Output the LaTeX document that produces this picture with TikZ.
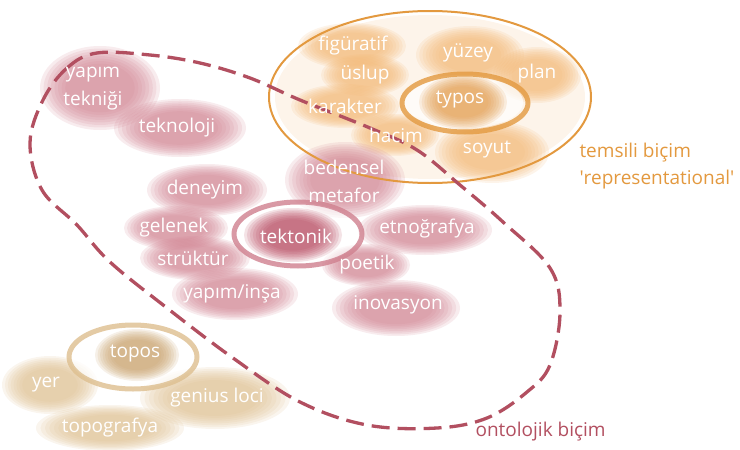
\documentclass[tikz,border=0pt]{standalone}
\usepackage{fontspec}
\setmainfont{Open Sans}
\usepackage{tikz}
\usetikzlibrary{positioning, calc}
\usepackage{xcolor}

\definecolor{redwash}{HTML}{CF7F8E}
\definecolor{reddark}{HTML}{B5425A}
\definecolor{redline}{HTML}{B24F60}
\definecolor{orwash}{HTML}{F2B774}
\definecolor{ordark}{HTML}{E39A48}
\definecolor{orline}{HTML}{E3993F}
\definecolor{tanwash}{HTML}{DDBE8E}
\definecolor{tandark}{HTML}{C79E66}

% soft watercolour spot: x, y, x radius, y radius, colour
\newcommand{\wspot}[5]{%
  \foreach \s in {1.0,0.94,0.88,0.82,0.76,0.70,0.64,0.58}
    \fill [#5, opacity=0.15] (#1,#2) ellipse [x radius=#3*\s, y radius=#4*\s];}

\begin{document}
\begin{tikzpicture}[x=1pt, y=-1pt,
    word/.style={text=white, font=\fontsize{19}{20}\selectfont, inner sep=1pt},
    wordtall/.style={word, align=center, font=\fontsize{19}{28}\selectfont},
    ring/.style={line width=5pt, opacity=0.8},
    caption/.style={anchor=west, font=\fontsize{19}{20}\selectfont}]
    \useasboundingbox (0,0) rectangle (740,450);

    % washes: representational
    \fill [orwash, opacity=0.15] (430,97) ellipse [x radius=155, y radius=82];
    \wspot{352}{46}{54}{23}{orwash}
    \wspot{365}{75}{44}{21}{orwash}
    \wspot{345}{106}{54}{22}{orwash}
    \wspot{395}{135}{44}{21}{orwash}
    \wspot{470}{55}{54}{29}{orwash}
    \wspot{537}{75}{44}{28}{orwash}
    \wspot{492}{152}{57}{31}{orwash}
    \fill [white, opacity=0.7] (463,102) ellipse [x radius=60, y radius=27];
    \wspot{463}{102}{44}{27}{ordark}
    \draw [orline, ring] (465,103) ellipse [x radius=63, y radius=29];

    % washes: ontological
    \wspot{100}{88}{60}{42}{redwash}
    \wspot{180}{128}{66}{29}{redwash}
    \wspot{207}{190}{60}{26}{redwash}
    \wspot{176}{228}{52}{22}{redwash}
    \wspot{195}{258}{55}{22}{redwash}
    \wspot{345}{180}{60}{38}{redwash}
    \wspot{425}{230}{67}{25}{redwash}
    \wspot{366}{265}{44}{21}{redwash}
    \wspot{235}{294}{63}{26}{redwash}
    \wspot{396}{308}{64}{28}{redwash}
    \fill [white, opacity=0.6] (297,234) ellipse [x radius=62, y radius=31];
    \wspot{293}{235}{49}{27}{reddark}
    \draw [redwash, ring] (298,234) ellipse [x radius=64, y radius=32];

    % washes: topos
    \wspot{50}{385}{48}{29}{tanwash}
    \wspot{215}{398}{75}{31}{tanwash}
    \wspot{110}{428}{74}{23}{tanwash}
    \fill [white, opacity=0.7] (133,357) ellipse [x radius=63, y radius=31];
    \wspot{137}{355}{42}{26}{tandark}
    \draw [tanwash, ring] (133,357) ellipse [x radius=64, y radius=32];

    % outlines
    \draw [orline, line width=2pt] (430,97) ellipse [x radius=161, y radius=86];
    \draw [redline, line width=3.3pt, dash pattern=on 18pt off 8pt, tension=0.6]
        plot [smooth cycle] coordinates {(97,53) (67,68) (43,100) (30,143) (42,190)
        (77,225) (110,262) (167,308) (233,358) (300,402) (367,425) (437,428)
        (487,418) (527,392) (550,365) (560,312) (550,268) (503,222) (460,185)
        (417,150) (370,128) (300,100) (250,78) (200,63) (150,55)};

    % words
    \node (yapimteknigi) [wordtall] at (93,89) {yapım\\tekniği};
    \node (teknoloji) [word] at (177,128) {teknoloji};
    \node (deneyim) [word] at (205,190) {deneyim};
    \node (gelenek) [word] at (174,228) {gelenek};
    \node (struktur) [word] at (193,258) {strüktür};
    \node (tektonik) [word] at (296,236) {tektonik};
    \node (bedensel) [wordtall] at (344,181) {bedensel\\metafor};
    \node (etnografya) [word] at (427,229) {etnoğrafya};
    \node (poetik) [word] at (367,265) {poetik};
    \node (yapiminsa) [word] at (232,294) {yapım/inşa};
    \node (inovasyon) [word] at (398,305) {inovasyon};

    \node (figuratif) [word] at (353,46) {figüratif};
    \node (uslup) [word] at (365,75) {üslup};
    \node (karakter) [word] at (345,106) {karakter};
    \node (hacim) [word] at (396,135) {hacim};
    \node (yuzey) [word] at (468,53) {yüzey};
    \node (plan) [word] at (537,74) {plan};
    \node (typos) [word] at (460,100) {typos};
    \node (soyut) [word] at (487,150) {soyut};

    \node (topos) [word] at (135,354) {topos};
    \node (yer) [word] at (46,385) {yer};
    \node (geniusloci) [word] at (217,398) {genius loci};
    \node (topografya) [word] at (110,428) {topografya};

    % captions
    \node (temsili) [caption, text=orline] at (576,153) {temsili biçim};
    \node (repr) [caption, text=orline] at (576,180) {\textquotesingle representational\textquotesingle};
    \node (ontolojik) [caption, text=redline] at (472,432) {ontolojik biçim};
\end{tikzpicture}
\end{document}
